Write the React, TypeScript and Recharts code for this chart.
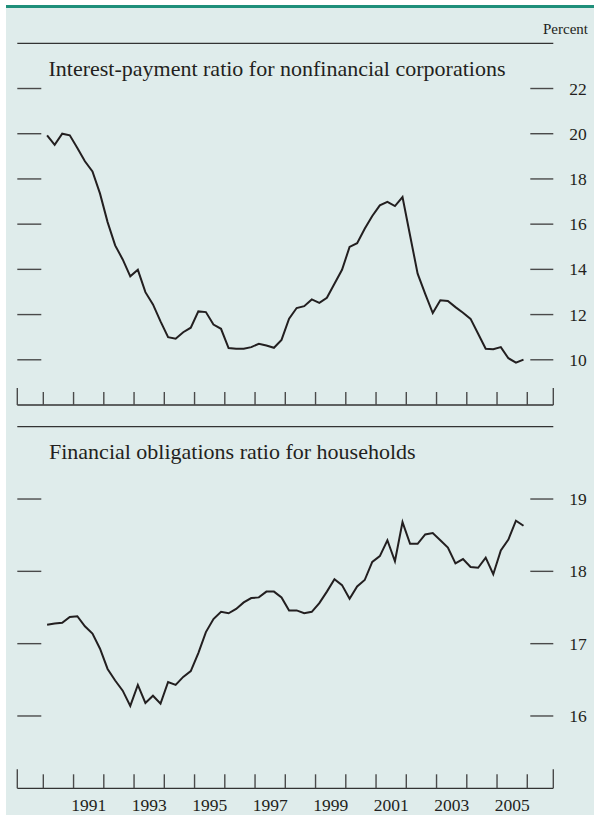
import React from "react";
import { LineChart, Line, XAxis, YAxis, ReferenceLine } from "recharts";

// quarterly, 1990:Q1 - 2005:Q4, percent
const FIRST_YEAR = 1990;

const corpRatio = [
  19.93, 19.51, 20.0, 19.93, 19.37, 18.78, 18.33, 17.35, 16.09, 15.06,
  14.44, 13.69, 13.98, 12.99, 12.45, 11.7, 11.0, 10.93, 11.22, 11.42,
  12.14, 12.11, 11.56, 11.37, 10.52, 10.49, 10.49, 10.56, 10.71, 10.63,
  10.53, 10.88, 11.82, 12.29, 12.37, 12.67, 12.52, 12.74, 13.36, 13.98,
  14.99, 15.16, 15.8, 16.36, 16.83, 16.99, 16.8, 17.2, 15.5, 13.81,
  12.92, 12.07, 12.63, 12.6, 12.33, 12.08, 11.81, 11.15, 10.49, 10.47,
  10.56, 10.07, 9.87, 10.01,
];

const householdRatio = [
  17.26, 17.28, 17.29, 17.37, 17.38, 17.24, 17.14, 16.93, 16.65, 16.49,
  16.35, 16.14, 16.43, 16.18, 16.28, 16.17, 16.47, 16.43, 16.54, 16.62,
  16.87, 17.16, 17.34, 17.44, 17.42, 17.48, 17.57, 17.63, 17.64, 17.72,
  17.72, 17.64, 17.46, 17.46, 17.42, 17.44, 17.56, 17.72, 17.89, 17.81,
  17.62, 17.79, 17.88, 18.13, 18.21, 18.43, 18.14, 18.68, 18.38, 18.38,
  18.51, 18.53, 18.43, 18.33, 18.11, 18.17, 18.06, 18.05, 18.19, 17.96,
  18.29, 18.44, 18.7, 18.63,
];

const corpTicks = [10, 12, 14, 16, 18, 20, 22];
const householdTicks = [16, 17, 18, 19];
const yearBounds = [1990, 1991, 1992, 1993, 1994, 1995, 1996, 1997, 1998, 1999, 2000, 2001, 2002, 2003, 2004, 2005, 2006];
const yearLabels = [1991, 1993, 1995, 1997, 1999, 2001, 2003, 2005];

const X_MIN = 1989.14;
const X_MAX = 2006.86;

const data = corpRatio.map((v, i) => ({
  t: FIRST_YEAR + (i + 0.5) / 4,
  corp: v,
  house: householdRatio[i],
}));

// boundaries carry tick marks, mid-year values carry the labels
const xTicks = [X_MIN, ...yearBounds, ...yearLabels.map((y) => y + 0.5), X_MAX].sort((a, b) => a - b);

const FONT = '"Liberation Serif", "Times New Roman", serif';
const INK = "#231f20";
const TICK = "#4a4a4a";
const BG = "#dfeceb";
const PLOT_W = 536;

function YearTick({ x, y, payload, showLabels, endLen, len }: any) {
  const v = payload.value;
  if (v === X_MIN || v === X_MAX) {
    return <line x1={x} x2={x} y1={y} y2={y - endLen} stroke={TICK} strokeWidth={1.4} />;
  }
  if (Number.isInteger(v)) {
    return <line x1={x} x2={x} y1={y} y2={y - len} stroke={TICK} strokeWidth={1.4} />;
  }
  if (!showLabels) return <g />;
  return (
    <text x={x} y={y + 23} textAnchor="middle" fontFamily={FONT} fontSize={17.5} fill={INK}>
      {Math.floor(v)}
    </text>
  );
}

function ValueTick({ x, y, payload }: any) {
  return (
    <g>
      <line x1={x - PLOT_W} x2={x - PLOT_W + 24} y1={y} y2={y} stroke={TICK} strokeWidth={1.4} />
      <line x1={x - 23} x2={x} y1={y} y2={y} stroke={TICK} strokeWidth={1.4} />
      <text x={x + 16} y={y} dy="0.35em" textAnchor="start" fontFamily={FONT} fontSize={17.5} fill={INK}>
        {payload.value}
      </text>
    </g>
  );
}

export default function App() {
  return (
    <div style={{ position: "absolute", left: 0, top: 0, width: 594, height: 815, background: "#fff" }}>
      <div
        style={{
          position: "absolute",
          left: 6,
          top: 5,
          width: 588,
          height: 810,
          background: BG,
          borderTop: "3px solid #1f8f7a",
          boxSizing: "border-box",
        }}
      />
      <svg width={594} height={815} style={{ position: "absolute", left: 0, top: 0 }}>
        <text x={588} y={34} textAnchor="end" fontFamily={FONT} fontSize={15} fill={INK}>
          Percent
        </text>
        <text x={48.5} y={76} fontFamily={FONT} fontSize={22} fill={INK}>
          Interest-payment ratio for nonfinancial corporations
        </text>
        <text x={49} y={459} fontFamily={FONT} fontSize={22} fill={INK}>
          Financial obligations ratio for households
        </text>
      </svg>

      <div style={{ position: "absolute", left: 0, top: 0 }}>
        <LineChart width={594} height={430} data={data} margin={{ top: 43.3, right: 0.7, left: 17.3, bottom: 0 }}>
          <XAxis
            dataKey="t"
            type="number"
            domain={[X_MIN, X_MAX]}
            ticks={xTicks}
            interval={0}
            height={25}
            tickSize={0}
            tickMargin={0}
            tickLine={false}
            axisLine={{ stroke: "#333", strokeWidth: 1.3 }}
            tick={(p: any) => <YearTick {...p} showLabels={false} endLen={17} len={13} />}
          />
          <YAxis
            orientation="right"
            width={40}
            domain={[8, 24]}
            ticks={corpTicks}
            interval={0}
            tickSize={0}
            tickMargin={0}
            tickLine={false}
            axisLine={false}
            tick={(p: any) => <ValueTick {...p} />}
          />
          <ReferenceLine y={24} stroke="#333" strokeWidth={1.2} />
          <Line type="linear" dataKey="corp" stroke={INK} strokeWidth={2} dot={false} isAnimationActive={false} />
        </LineChart>
      </div>

      <div style={{ position: "absolute", left: 0, top: 405 }}>
        <LineChart width={594} height={410} data={data} margin={{ top: 21.7, right: 0.7, left: 17.3, bottom: 0 }}>
          <XAxis
            dataKey="t"
            type="number"
            domain={[X_MIN, X_MAX]}
            ticks={xTicks}
            interval={0}
            height={26.7}
            tickSize={0}
            tickMargin={0}
            tickLine={false}
            axisLine={{ stroke: "#333", strokeWidth: 1.3 }}
            tick={(p: any) => <YearTick {...p} showLabels={true} endLen={19} len={14} />}
          />
          <YAxis
            orientation="right"
            width={40}
            domain={[15, 20]}
            ticks={householdTicks}
            interval={0}
            tickSize={0}
            tickMargin={0}
            tickLine={false}
            axisLine={false}
            tick={(p: any) => <ValueTick {...p} />}
          />
          <ReferenceLine y={20} stroke="#333" strokeWidth={1.2} />
          <Line type="linear" dataKey="house" stroke={INK} strokeWidth={2} dot={false} isAnimationActive={false} />
        </LineChart>
      </div>
    </div>
  );
}
